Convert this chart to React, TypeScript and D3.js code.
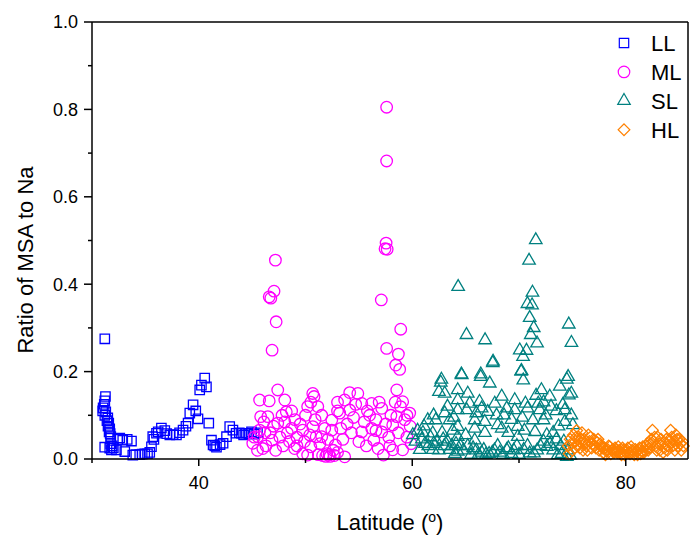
import React from "react";
import * as d3 from "d3";

const W = 691;
const H = 537;
const margin = { top: 22, right: 3, bottom: 78, left: 92 };

const xMajor = [40, 60, 80];
const xMinor = [30, 50, 70];
const yMajor = [0, 0.2, 0.4, 0.6, 0.8, 1.0];
const yMinor = [0.1, 0.3, 0.5, 0.7, 0.9];

// [latitude, MSA/Na]
const LL: [number, number][] = [
  [31.2, 0.275], [31.26, 0.143], [31.2, 0.133], [31.15, 0.125], [31.04, 0.117], [31.0, 0.11],
  [31.29, 0.108], [31.2, 0.1], [31.48, 0.094], [31.4, 0.088], [31.57, 0.082], [31.5, 0.075],
  [31.66, 0.069], [31.6, 0.062], [31.76, 0.051], [31.7, 0.058], [31.19, 0.027], [31.66, 0.025],
  [31.82, 0.021], [31.75, 0.035], [31.9, 0.03], [32.0, 0.026], [32.29, 0.021], [32.6, 0.048],
  [32.4, 0.045], [32.88, 0.043], [33.07, 0.017], [33.3, 0.045], [33.7, 0.041], [33.82, 0.009],
  [34.1, 0.01], [34.47, 0.01], [34.7, 0.011], [34.94, 0.012], [35.2, 0.012], [35.41, 0.015],
  [35.57, 0.028], [35.69, 0.051], [35.8, 0.045], [36.04, 0.059], [36.2, 0.062], [36.5, 0.071],
  [36.82, 0.065], [37.0, 0.058], [37.29, 0.055], [37.6, 0.056], [37.91, 0.055], [38.2, 0.06],
  [38.53, 0.066], [38.8, 0.075], [39.0, 0.082], [39.16, 0.105], [39.47, 0.124], [39.72, 0.11],
  [39.93, 0.092], [40.09, 0.158], [40.25, 0.169], [40.56, 0.185], [40.72, 0.165], [40.94, 0.082],
  [41.19, 0.043], [41.34, 0.032], [41.5, 0.03], [41.66, 0.027], [42.0, 0.033], [42.28, 0.036],
  [42.6, 0.051], [42.9, 0.074], [43.2, 0.066], [43.5, 0.059], [43.8, 0.06], [44.0, 0.059],
  [44.2, 0.055], [44.47, 0.059], [44.7, 0.058], [44.94, 0.062], [45.2, 0.057], [45.5, 0.06],
];

const ML: [number, number][] = [
  [47.18, 0.455], [47.05, 0.384], [46.6, 0.371], [46.75, 0.368], [47.25, 0.314], [46.87, 0.249],
  [57.6, 0.805], [57.6, 0.682], [57.55, 0.494], [57.45, 0.481], [57.65, 0.48], [57.1, 0.364],
  [58.92, 0.297], [57.6, 0.253], [58.7, 0.24], [58.45, 0.215], [58.82, 0.205],
  [45.06, 0.036], [45.2, 0.05], [45.53, 0.051], [45.7, 0.066], [45.7, 0.135], [45.8, 0.097],
  [46.0, 0.024], [46.1, 0.085], [46.3, 0.03], [46.47, 0.097], [46.6, 0.133], [46.7, 0.06],
  [46.86, 0.043], [47.0, 0.075], [47.2, 0.02], [47.4, 0.158], [47.4, 0.082], [47.6, 0.05],
  [47.8, 0.1], [48.06, 0.135], [48.06, 0.085], [48.2, 0.108], [48.3, 0.06], [48.5, 0.04],
  [48.7, 0.07], [48.98, 0.024], [49.2, 0.05], [49.5, 0.08], [49.74, 0.066], [49.74, 0.012],
  [49.9, 0.04], [50.0, 0.1], [50.2, 0.12], [50.2, 0.009], [50.4, 0.055], [50.5, 0.028],
  [50.68, 0.15], [50.68, 0.074], [50.8, 0.143], [50.9, 0.09], [51.0, 0.051], [51.15, 0.12],
  [51.2, 0.01], [51.35, 0.035], [51.52, 0.1], [51.52, 0.051], [51.6, 0.008], [51.8, 0.07],
  [51.9, 0.006], [52.1, 0.045], [52.2, 0.01], [52.46, 0.089], [52.46, 0.066], [52.6, 0.02],
  [52.8, 0.032], [53.0, 0.11], [53.2, 0.105], [53.3, 0.07], [53.5, 0.045], [53.67, 0.135],
  [53.67, 0.005], [53.9, 0.08], [54.14, 0.152], [54.14, 0.112], [54.3, 0.06], [54.5, 0.095],
  [54.7, 0.125], [55.0, 0.04], [55.27, 0.127], [55.27, 0.062], [55.5, 0.085], [55.7, 0.03],
  [56.0, 0.1], [56.2, 0.127], [56.2, 0.07], [56.4, 0.043], [56.6, 0.09], [56.8, 0.024],
  [57.14, 0.116], [57.14, 0.062], [57.3, 0.009], [57.5, 0.08], [57.8, 0.05], [58.0, 0.1],
  [58.17, 0.078], [58.17, 0.021], [58.4, 0.13], [58.55, 0.158], [58.55, 0.097], [58.7, 0.06],
  [59.1, 0.131], [59.1, 0.021], [59.3, 0.09], [59.5, 0.05], [59.76, 0.105], [59.8, 0.075],
  [52.0, 0.012], [52.3, 0.006], [52.7, 0.008], [53.0, 0.015], [49.2, 0.03], [47.9, 0.03],
  [46.2, 0.06], [45.5, 0.02], [55.8, 0.11], [56.9, 0.13], [58.9, 0.12], [59.5, 0.1],
  [54.9, 0.15], [53.0, 0.13], [49.0, 0.09], [50.5, 0.13], [48.7, 0.11], [56.6, 0.065],
  [57.9, 0.03], [59.9, 0.035],
];

const SL: [number, number][] = [
  [71.57, 0.501], [70.94, 0.454], [64.3, 0.394], [71.26, 0.381], [70.79, 0.355], [71.22, 0.352],
  [71.0, 0.323], [71.38, 0.3], [71.1, 0.284], [71.69, 0.265], [65.08, 0.284], [66.82, 0.272],
  [74.66, 0.308], [74.91, 0.266], [67.57, 0.223], [70.07, 0.249], [70.7, 0.248], [70.38, 0.234],
  [70.23, 0.202], [64.6, 0.194], [66.42, 0.194], [74.6, 0.188], [62.73, 0.182],
  [67.54, 0.22], [70.2, 0.2], [70.4, 0.18], [64.63, 0.192], [66.41, 0.188], [67.26, 0.173],
  [62.67, 0.175], [62.5, 0.154], [63.04, 0.15], [64.26, 0.158], [65.2, 0.15], [74.48, 0.182],
  [73.82, 0.166], [72.1, 0.158], [72.88, 0.143], [74.67, 0.146], [68.38, 0.143], [64.26, 0.135],
  [65.38, 0.127], [66.3, 0.131], [67.73, 0.127], [69.6, 0.135], [70.6, 0.127], [71.8, 0.127],
  [74.1, 0.124], [63.04, 0.105], [64.26, 0.112], [65.1, 0.112], [66.5, 0.116], [67.07, 0.108],
  [68.85, 0.116], [69.6, 0.112], [70.8, 0.116], [71.94, 0.112], [74.29, 0.112], [61.45, 0.089],
  [62.2, 0.089], [63.5, 0.089], [64.26, 0.074], [65.85, 0.089], [66.79, 0.085], [68.0, 0.078],
  [69.88, 0.074], [71.3, 0.089], [72.3, 0.089], [74.29, 0.085], [75.04, 0.078], [60.05, 0.055],
  [60.5, 0.065], [61.0, 0.06], [61.92, 0.059], [62.8, 0.06], [63.8, 0.065], [64.26, 0.051],
  [65.0, 0.055], [65.85, 0.07], [66.8, 0.06], [68.38, 0.07], [69.0, 0.06], [69.88, 0.051],
  [70.5, 0.065], [71.5, 0.062], [72.6, 0.055], [73.2, 0.06], [65.85, 0.043], [60.7, 0.021],
  [61.2, 0.035], [61.92, 0.021], [62.3, 0.04], [63.0, 0.03], [63.5, 0.021], [64.0, 0.012],
  [64.26, 0.017], [64.8, 0.02], [65.5, 0.01], [66.0, 0.02], [66.7, 0.021], [67.2, 0.012],
  [68.0, 0.03], [68.85, 0.021], [69.3, 0.012], [69.8, 0.03], [70.44, 0.021], [71.0, 0.013],
  [71.4, 0.013], [72.0, 0.03], [72.6, 0.028], [73.2, 0.02], [73.63, 0.009], [74.0, 0.012],
  [74.48, 0.005], [74.8, 0.008],
  [60.3, 0.04], [60.9, 0.045], [61.5, 0.03], [61.7, 0.05], [62.0, 0.035], [62.5, 0.02],
  [62.9, 0.045], [63.3, 0.04], [63.7, 0.03], [64.1, 0.035], [64.5, 0.03], [65.2, 0.03],
  [65.7, 0.025], [66.2, 0.01], [66.5, 0.015], [66.9, 0.01], [67.5, 0.015], [67.7, 0.02],
  [68.2, 0.015], [68.5, 0.01], [69.0, 0.025], [69.5, 0.02], [70.0, 0.01], [70.8, 0.03],
  [71.7, 0.02], [72.3, 0.04], [72.9, 0.035], [73.5, 0.045], [73.9, 0.03], [74.2, 0.04],
  [74.6, 0.02], [61.1, 0.075], [62.0, 0.1], [63.3, 0.12], [67.9, 0.1], [68.6, 0.1],
  [70.3, 0.095], [72.5, 0.1], [73.0, 0.12], [73.5, 0.11], [73.7, 0.075], [63.9, 0.095],
  [66.0, 0.105], [69.3, 0.09], [71.6, 0.145], [72.3, 0.13], [74.9, 0.15], [74.9, 0.1],
];

const HL: [number, number][] = [
  [74.6, 0.03], [74.8, 0.045], [75.0, 0.02], [75.1, 0.055], [75.3, 0.04], [75.4, 0.065],
  [75.5, 0.03], [75.6, 0.05], [75.8, 0.038], [75.9, 0.06], [76.0, 0.02], [76.1, 0.045],
  [76.3, 0.03], [76.5, 0.055], [76.6, 0.04], [76.8, 0.025], [77.0, 0.045], [77.1, 0.03],
  [77.3, 0.038], [77.5, 0.02], [77.7, 0.03], [77.9, 0.015], [78.0, 0.025], [78.2, 0.018],
  [78.4, 0.03], [78.6, 0.012], [78.8, 0.022], [79.0, 0.025], [79.2, 0.015], [79.4, 0.02],
  [79.6, 0.01], [79.8, 0.02], [80.0, 0.015], [80.2, 0.025], [80.4, 0.012], [80.6, 0.02],
  [80.8, 0.01], [81.0, 0.018], [81.2, 0.022], [81.4, 0.012], [81.6, 0.028], [81.8, 0.02],
  [82.0, 0.035], [82.2, 0.025], [82.4, 0.045], [82.5, 0.066], [82.6, 0.04], [82.8, 0.03],
  [83.0, 0.05], [83.2, 0.02], [83.4, 0.035], [83.6, 0.025], [83.8, 0.045], [84.0, 0.03],
  [84.2, 0.066], [84.3, 0.05], [84.5, 0.04], [84.7, 0.055], [84.9, 0.03], [85.0, 0.045],
  [85.2, 0.02], [85.3, 0.04],
  [74.7, 0.012], [74.9, 0.035], [75.2, 0.025], [75.35, 0.05], [75.7, 0.025], [75.85, 0.045],
  [76.2, 0.035], [76.4, 0.02], [76.7, 0.05], [76.9, 0.035], [77.2, 0.025], [77.4, 0.045],
  [77.6, 0.035], [77.8, 0.025], [78.1, 0.01], [78.3, 0.022], [78.5, 0.028], [78.7, 0.02],
  [78.9, 0.015], [79.1, 0.02], [79.3, 0.028], [79.5, 0.015], [79.7, 0.025], [79.9, 0.01],
  [80.1, 0.02], [80.3, 0.015], [80.5, 0.028], [80.7, 0.018], [80.9, 0.022], [81.1, 0.01],
  [81.3, 0.025], [81.5, 0.018], [81.7, 0.015], [81.9, 0.03], [82.1, 0.02], [82.3, 0.035],
  [82.7, 0.05], [82.9, 0.02], [83.1, 0.035], [83.3, 0.045], [83.5, 0.015], [83.7, 0.035],
  [83.9, 0.02], [84.1, 0.04], [84.4, 0.03], [84.6, 0.02], [84.8, 0.045], [85.1, 0.035],
  [85.4, 0.03],
];

const seriesNames = ["LL", "ML", "SL", "HL"];
const seriesData = [LL, ML, SL, HL];
const colors = ["#0000ff", "#ff00ff", "#008080", "#ff8000"];

const symbolPaths = [
  d3.symbol(d3.symbolSquare, 88)(),
  d3.symbol(d3.symbolCircle, 105)(),
  d3.symbol(d3.symbolTriangle, 68)(),
  d3.symbol(d3.symbolSquare, 68)(),
];
const symbolRotate = [0, 0, 0, 45];

const font = "Arial, 'Liberation Sans', Helvetica, sans-serif";

export default function App() {
  const x = d3.scaleLinear().domain([30, 85.83]).range([margin.left, W - margin.right]);
  const y = d3.scaleLinear().domain([0, 1]).range([H - margin.bottom, margin.top]);
  const x0 = margin.left;
  const x1 = W - margin.right;
  const y0 = H - margin.bottom;
  const y1 = margin.top;

  return (
    <svg width={W} height={H} style={{ position: "absolute", left: 0, top: 0, background: "#fff" }} fontFamily={font}>
      {/* markers */}
      {seriesData.map((data, si) => (
        <g key={seriesNames[si]} fill="none" stroke={colors[si]} strokeWidth={1.3}>
          {data.map((d, i) => (
            <path
              key={i}
              d={symbolPaths[si] as string}
              transform={`translate(${x(d[0])},${y(d[1])}) rotate(${symbolRotate[si]})`}
            />
          ))}
        </g>
      ))}

      {/* frame */}
      <line x1={x0} x2={x1} y1={y1} y2={y1} stroke="#000" strokeWidth={1.5} />
      <line x1={x1} x2={x1} y1={y1} y2={y0} stroke="#000" strokeWidth={1.5} />
      <line x1={x0} x2={x1} y1={y0} y2={y0} stroke="#000" strokeWidth={1.5} />
      <line x1={x0} x2={x0} y1={y1} y2={y0} stroke="#000" strokeWidth={1.5} />

      {/* x ticks */}
      {xMajor.map((t) => (
        <g key={t}>
          <line x1={x(t)} x2={x(t)} y1={y0} y2={y0 + 7} stroke="#000" strokeWidth={1.5} />
          <text x={x(t)} y={y0 + 30} textAnchor="middle" fontSize={18}>{t}</text>
        </g>
      ))}
      {xMinor.map((t) => (
        <line key={t} x1={x(t)} x2={x(t)} y1={y0} y2={y0 + 4} stroke="#000" strokeWidth={1.5} />
      ))}

      {/* y ticks */}
      {yMajor.map((t) => (
        <g key={t}>
          <line x1={x0 - 8} x2={x0} y1={y(t)} y2={y(t)} stroke="#000" strokeWidth={1.5} />
          <text x={x0 - 14} y={y(t)} dy="0.36em" textAnchor="end" fontSize={18}>{t.toFixed(1)}</text>
        </g>
      ))}
      {yMinor.map((t) => (
        <line key={t} x1={x0 - 4} x2={x0} y1={y(t)} y2={y(t)} stroke="#000" strokeWidth={1.5} />
      ))}

      {/* axis titles */}
      <text x={(x0 + x1) / 2} y={530} textAnchor="middle" fontSize={22}>
        Latitude (<tspan dy={-8} fontSize={14}>o</tspan><tspan dy={8}>)</tspan>
      </text>
      <text transform="translate(33,260) rotate(-90)" textAnchor="middle" fontSize={22}>
        Ratio of MSA to Na
      </text>

      {/* legend */}
      {seriesNames.map((n, i) => (
        <g key={n} transform={`translate(624,${43 + i * 28.9})`}>
          <path
            d={symbolPaths[i] as string}
            transform={`rotate(${symbolRotate[i]})`}
            fill="none"
            stroke={colors[i]}
            strokeWidth={1.2}
          />
          <text x={27} y={0} dy="0.36em" fontSize={22}>{n}</text>
        </g>
      ))}
    </svg>
  );
}
